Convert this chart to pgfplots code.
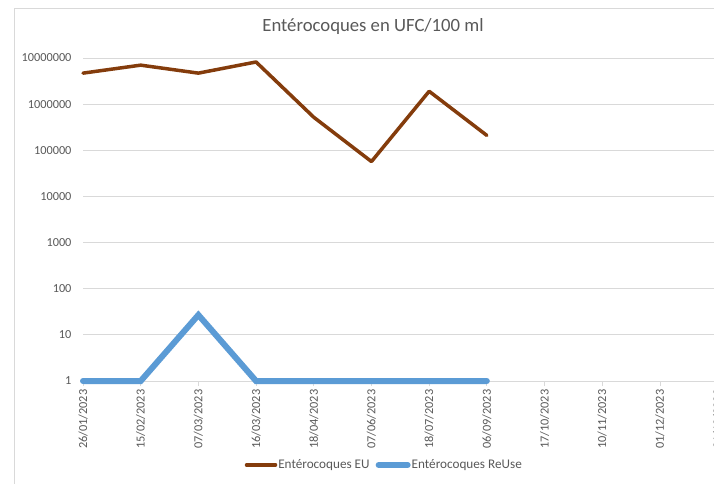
\documentclass[border=0pt]{standalone}
\usepackage{fontspec}
\setmainfont{Carlito}
\usepackage{pgfplots}
\pgfplotsset{compat=1.18}
\definecolor{euBrown}{HTML}{843C0C}
\definecolor{reuseBlue}{HTML}{5B9BD5}
\definecolor{gridGray}{HTML}{D9D9D9}
\definecolor{txtGray}{HTML}{595959}

\begin{document}
\begin{tikzpicture}
\clip (0,0) rectangle (714pt,483pt);
\fill[white] (0,0) rectangle (714pt,483pt);
\draw[gridGray, line width=0.8pt] (14.5pt,-5pt) -- (14.5pt,474.5pt) -- (720pt,474.5pt);
\begin{axis}[
  at={(83pt,102pt)}, anchor=south west,
  scale only axis, width=634.6pt, height=323pt,
  xmin=0, xmax=11,
  ymode=log, ymin=1, ymax=1e7,
  axis lines*=left,
  x axis line style={draw=gridGray, line width=0.8pt},
  y axis line style={draw=none},
  xtick={0,...,11},
  xticklabels={26/01/2023,15/02/2023,07/03/2023,16/03/2023,18/04/2023,07/06/2023,
    18/07/2023,06/09/2023,17/10/2023,10/11/2023,01/12/2023,21/12/2023},
  ytick={1,10,100,1000,10000,100000,1000000,10000000},
  yticklabels={1,10,100,1000,10000,100000,1000000,10000000},
  tick align=outside,
  xtick style={draw=gridGray, line width=0.8pt},
  major tick length=5pt,
  ytick style={draw=none},
  minor ytick={},
  ymajorgrids, grid style={gridGray, line width=0.8pt},
  tick label style={font=\fontsize{12.3}{14}\selectfont, color=txtGray,
    /pgf/number format/assume math mode=true},
  xticklabel style={rotate=90, anchor=east, xshift=0pt},
  yticklabel style={xshift=-3pt},
  title={Entérocoques en UFC/100 ml},
  title style={font=\fontsize{18.7}{22}\selectfont, color=txtGray,
    at={(0.457,1)}, anchor=south, yshift=14pt},
  legend style={at={(0.474,-0.26)}, anchor=center, draw=none, fill=none,
    legend columns=2, font=\fontsize{13.2}{15}\selectfont, text=txtGray,
    nodes={inner xsep=1pt},
    /tikz/every even column/.append style={column sep=5pt}},
  legend cell align=left,
  legend image code/.code={\draw[#1] (0pt,0pt) -- (29pt,0pt);},
  clip=false,
]
\addplot[color=euBrown, line width=3.5pt, line join=round, line cap=round] coordinates {
  (0,4.7e6) (1,7.0e6) (2,4.7e6) (3,8.2e6) (4,5.2e5) (5,5.7e4) (6,1.9e6) (7,2.1e5)};
\addlegendentry{Entérocoques EU}
\addplot[color=reuseBlue, line width=6pt, line join=miter, line cap=round] coordinates {
  (0,1) (1,1) (2,27) (3,1) (4,1) (5,1) (6,1) (7,1)};
\addlegendentry{Entérocoques ReUse}
\end{axis}
\end{tikzpicture}
\end{document}
